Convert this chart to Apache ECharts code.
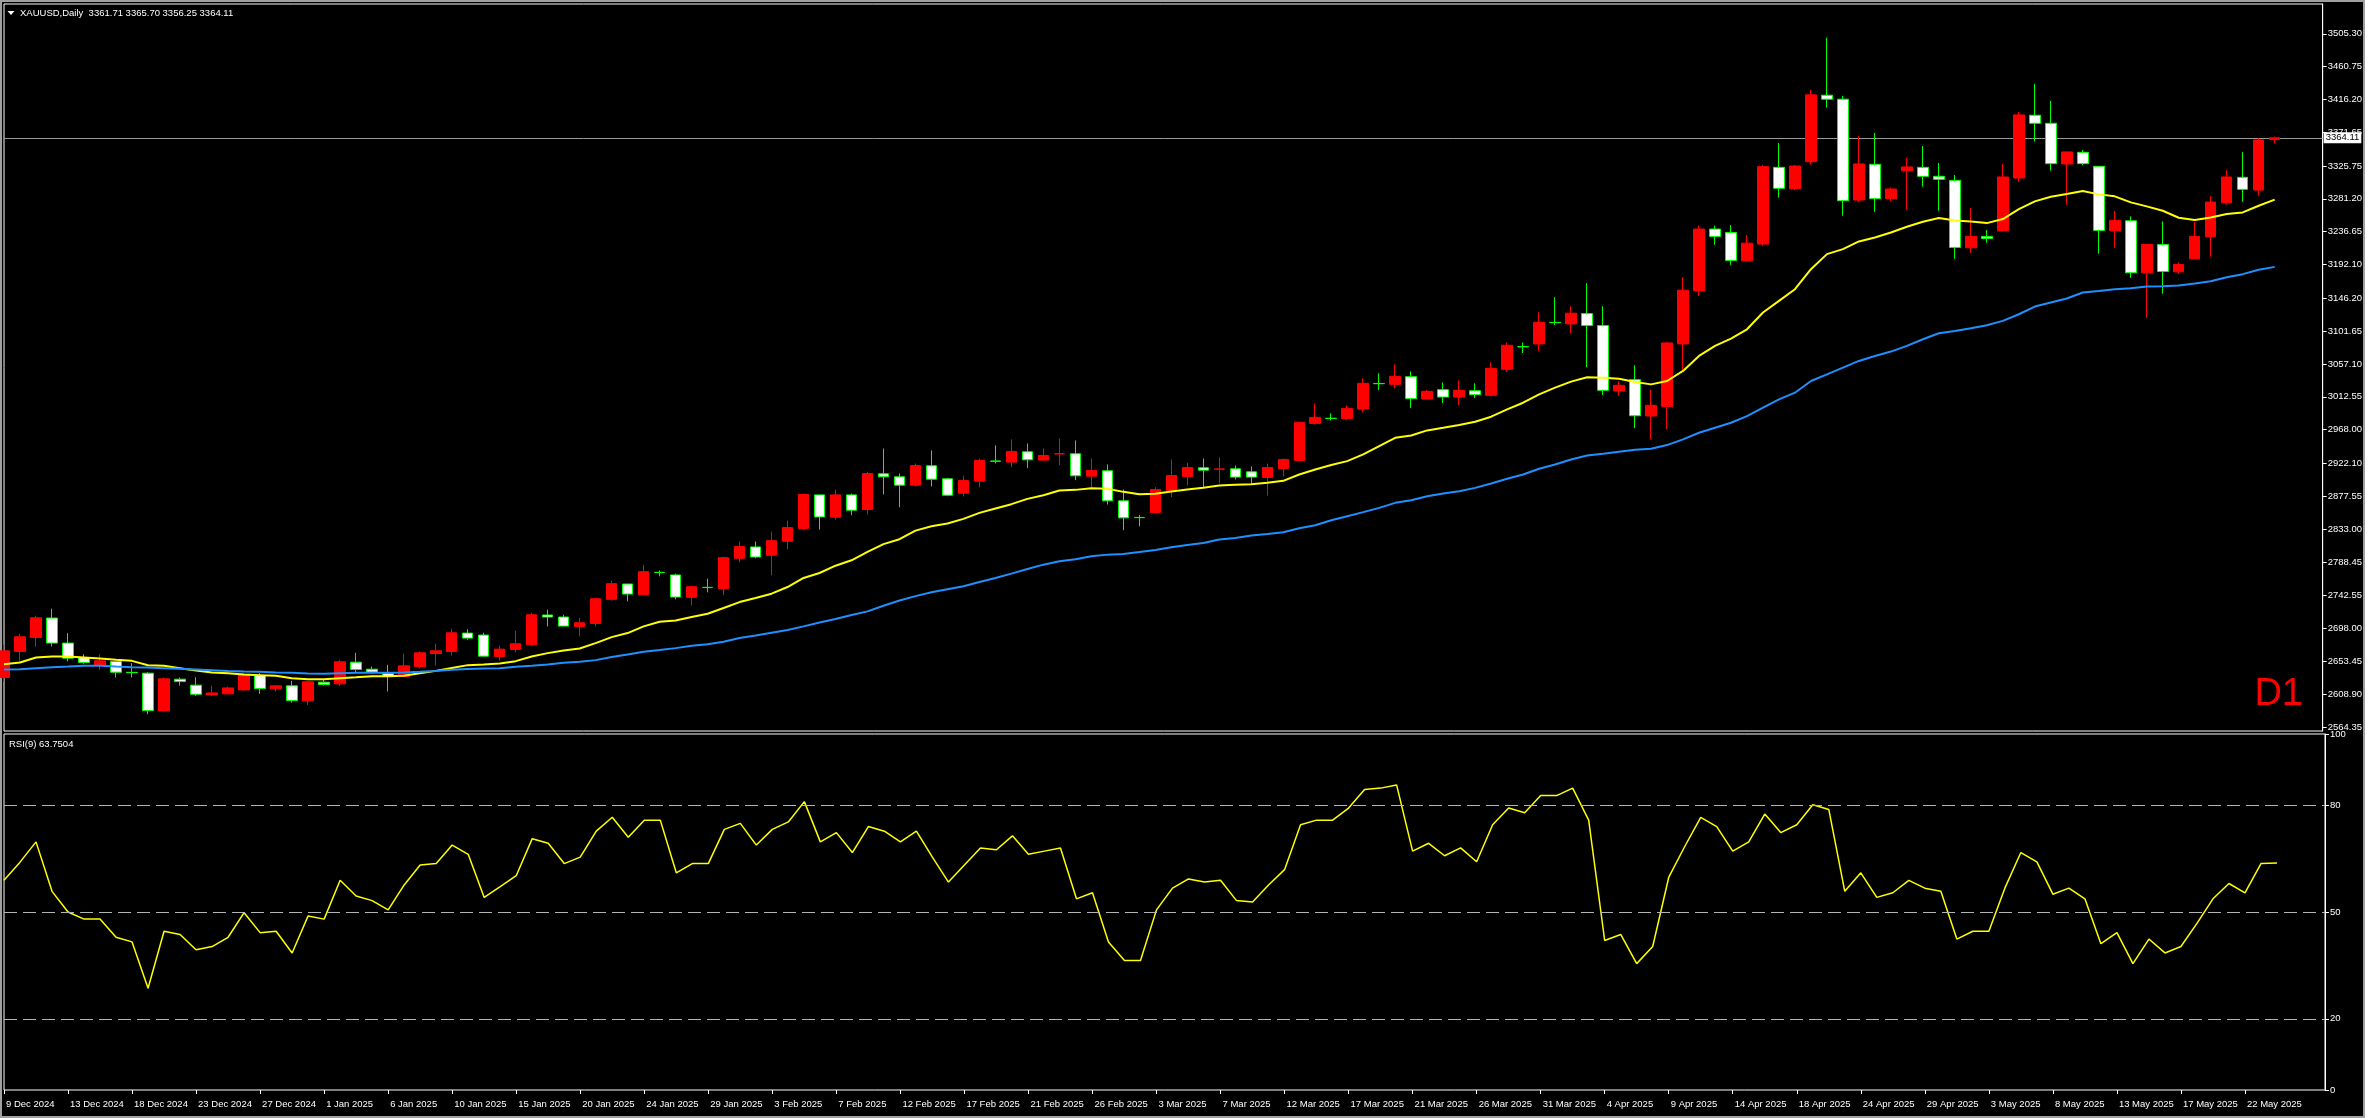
<!DOCTYPE html>
<html><head><meta charset="utf-8">
<script src="https://cdn.jsdelivr.net/npm/echarts@6/dist/echarts.min.js"></script>
<style>html,body{margin:0;padding:0;background:#000;overflow:hidden}#c{width:2365px;height:1118px;}</style>
</head><body><div id="c"></div>
<script>
const symbolName = 'XAUUSD,Daily';
const rsiName = 'RSI(9)';
const periodName = 'D1';
const dateLabels = ['9 Dec 2024','13 Dec 2024','18 Dec 2024','23 Dec 2024','27 Dec 2024','1 Jan 2025','6 Jan 2025','10 Jan 2025','15 Jan 2025','20 Jan 2025','24 Jan 2025','29 Jan 2025','3 Feb 2025','7 Feb 2025','12 Feb 2025','17 Feb 2025','21 Feb 2025','26 Feb 2025','3 Mar 2025','7 Mar 2025','12 Mar 2025','17 Mar 2025','21 Mar 2025','26 Mar 2025','31 Mar 2025','4 Apr 2025','9 Apr 2025','14 Apr 2025','18 Apr 2025','24 Apr 2025','29 Apr 2025','3 May 2025','8 May 2025','13 May 2025','17 May 2025','22 May 2025'];
const priceTicks = [3505.30,3460.75,3416.20,3371.65,3325.75,3281.20,3236.65,3192.10,3146.20,3101.65,3057.10,3012.55,2968.00,2922.10,2877.55,2833.00,2788.45,2742.55,2698.00,2653.45,2608.90,2564.35];
const rsiTicks = [0,20,50,80,100];
const rsiLevels = [20,50,80];
const opens = [2631.5,2666.8,2685.9,2712.2,2678.2,2658.7,2647.8,2653.2,2638.5,2637.4,2586.2,2629.2,2621.1,2607.9,2609.3,2614.7,2634.2,2616.1,2620.2,2599.8,2625.1,2622.9,2652.3,2642.8,2637.4,2632.8,2646.4,2664.1,2666.8,2691.8,2689.1,2660.1,2669.6,2675.9,2716.3,2713.6,2700.9,2704.9,2737.6,2758.4,2743.9,2774.3,2770.7,2740.3,2753.9,2752.1,2793.3,2808.7,2797.4,2816.4,2833.7,2879.4,2849.1,2879.4,2859.5,2908.0,2903.9,2892.6,2918.9,2901.2,2881.7,2898.0,2925.4,2923.9,2937.9,2926.6,2935.0,2935.2,2904.8,2912.1,2871.3,2848.8,2855.4,2885.3,2904.4,2916.2,2914.2,2914.8,2910.7,2903.0,2915.2,2926.1,2976.4,2983.4,2983.2,2995.9,3030.6,3029.4,3039.8,3009.5,3022.2,3012.2,3020.8,3014.5,3049.8,3080.7,3084.3,3113.5,3111.5,3125.5,3109.2,3020.4,3035.8,2986.4,2999.5,3084.3,3156.3,3240.2,3235.6,3197.1,3219.8,3324.0,3295.0,3331.7,3421.9,3416.5,3279.6,3328.1,3281.4,3319.5,3324.0,3311.8,3306.3,3214.8,3230.2,3237.9,3309.5,3394.7,3383.8,3328.6,3344.4,3325.4,3237.9,3251.5,3180.8,3219.3,3182.2,3199.8,3229.8,3276.0,3310.4,3293.2,3361.71];
const highs = [2675.9,2690.9,2715.3,2724.9,2691.8,2663.2,2663.2,2654.0,2651.0,2638.8,2631.5,2631.5,2631.9,2620.2,2619.3,2637.4,2637.4,2620.6,2627.0,2626.0,2628.3,2655.5,2665.0,2646.4,2648.7,2663.7,2666.8,2677.3,2697.7,2697.2,2692.3,2674.6,2695.0,2719.4,2723.5,2716.7,2712.2,2739.8,2762.9,2758.8,2784.7,2777.0,2772.5,2756.2,2765.7,2795.6,2816.0,2816.0,2829.6,2844.5,2881.2,2879.8,2886.7,2881.2,2910.7,2942.4,2908.4,2922.0,2939.7,2902.6,2905.7,2928.8,2946.5,2954.7,2949.2,2942.4,2956.0,2953.3,2928.8,2920.7,2886.7,2852.3,2889.9,2927.5,2923.0,2928.8,2930.2,2919.3,2918.0,2922.0,2928.8,2978.2,3003.6,2990.0,3000.9,3037.6,3044.4,3056.6,3047.1,3021.7,3032.1,3034.9,3030.8,3059.3,3086.1,3086.1,3127.3,3147.7,3135.5,3166.8,3135.5,3034.0,3055.3,3022.6,3086.9,3174.9,3244.7,3244.7,3245.6,3232.0,3327.2,3357.1,3327.2,3429.2,3499.9,3421.0,3366.6,3370.7,3296.4,3336.7,3353.0,3329.9,3313.6,3268.7,3238.8,3328.6,3399.3,3437.3,3414.2,3345.3,3347.6,3325.8,3264.6,3257.4,3219.7,3250.6,3194.9,3249.7,3285.0,3320.4,3344.9,3363.9,3365.70];
const lows = [2626.0,2653.2,2673.6,2673.6,2653.2,2650.1,2641.9,2631.5,2631.5,2581.6,2585.3,2620.6,2606.6,2606.6,2609.0,2613.4,2609.3,2612.5,2597.5,2594.3,2620.6,2620.2,2638.8,2637.4,2612.5,2632.4,2644.2,2647.8,2661.4,2682.7,2660.0,2654.2,2665.5,2674.6,2700.9,2700.8,2687.3,2700.9,2735.8,2734.9,2743.0,2768.8,2737.6,2729.4,2747.1,2743.0,2787.9,2793.3,2770.2,2805.6,2831.4,2832.3,2845.9,2851.8,2852.7,2879.9,2862.7,2890.8,2890.8,2877.6,2877.2,2889.9,2922.0,2917.1,2915.7,2925.2,2919.8,2899.4,2889.9,2866.3,2831.4,2836.8,2854.5,2876.3,2892.1,2889.9,2894.9,2900.3,2894.4,2878.5,2904.4,2925.7,2975.1,2980.5,2980.9,2991.4,3021.7,3024.0,2997.3,3009.1,3004.1,3001.3,3010.9,3013.1,3046.2,3072.0,3074.8,3110.1,3098.8,3053.0,3014.9,3013.6,2970.1,2955.1,2968.7,3047.6,3149.5,3218.9,3191.7,3195.8,3217.5,3282.8,3293.2,3327.6,3405.1,3258.3,3276.4,3263.7,3278.2,3266.0,3297.7,3265.1,3199.8,3208.0,3221.6,3236.5,3304.1,3358.9,3319.5,3273.3,3327.2,3206.6,3214.8,3174.0,3119.6,3152.3,3179.0,3199.8,3202.6,3273.3,3277.3,3285.5,3356.25];
const closes = [2667.7,2686.8,2712.6,2678.2,2657.8,2651.9,2654.1,2638.7,2638.0,2586.6,2629.7,2626.0,2608.8,2610.6,2617.4,2635.1,2616.5,2620.2,2600.2,2625.6,2622.0,2652.8,2642.4,2638.8,2632.8,2647.4,2665.0,2667.7,2692.2,2685.0,2660.5,2670.0,2677.3,2716.7,2713.6,2701.3,2705.8,2738.5,2758.9,2744.8,2775.2,2774.0,2740.7,2754.8,2753.6,2794.2,2809.2,2795.1,2817.3,2835.0,2879.9,2849.5,2879.4,2858.6,2908.4,2903.9,2892.6,2919.3,2900.7,2879.0,2898.9,2926.1,2925.0,2938.4,2927.0,2932.9,2935.3,2905.3,2912.5,2871.3,2848.2,2848.5,2886.7,2905.7,2916.6,2913.0,2914.6,2903.5,2903.5,2916.6,2927.5,2977.8,2984.6,2983.1,2996.8,3030.8,3030.3,3040.3,3010.0,3019.9,3012.2,3021.3,3015.4,3051.2,3082.5,3080.4,3113.7,3113.2,3126.0,3109.2,3021.3,3028.1,2986.8,3000.9,3085.6,3157.2,3240.2,3230.2,3197.6,3221.1,3324.9,3295.5,3325.8,3422.4,3416.5,3278.7,3328.6,3281.4,3294.6,3324.5,3311.8,3307.7,3215.3,3230.2,3227.5,3310.9,3395.2,3383.8,3329.0,3344.9,3329.0,3238.4,3252.0,3180.8,3219.3,3182.6,3192.1,3230.2,3276.9,3310.9,3294.1,3361.2,3364.11];
const maFast = [2649.6,2651.9,2658.7,2660.0,2660.0,2658.7,2657.3,2655.5,2654.1,2648.2,2647.4,2644.2,2641.0,2638.3,2637.4,2635.6,2634.7,2633.8,2630.6,2629.2,2629.2,2630.6,2631.9,2633.3,2633.3,2633.8,2637.4,2640.5,2644.5,2648.3,2649.2,2650.6,2653.7,2660.1,2664.6,2668.2,2670.9,2678.2,2686.3,2691.8,2700.9,2707.2,2709.0,2713.6,2718.1,2725.8,2733.9,2739.4,2745.3,2754.3,2766.6,2773.4,2783.3,2790.6,2801.9,2812.6,2819.2,2830.9,2836.8,2840.5,2846.8,2855.0,2860.9,2866.8,2874.0,2879.0,2885.3,2886.2,2888.5,2887.6,2883.5,2880.4,2880.8,2884.0,2886.7,2889.0,2892.1,2893.0,2893.9,2895.8,2898.5,2907.1,2913.9,2920.0,2925.2,2934.3,2945.6,2956.9,2960.1,2966.9,2970.5,2974.2,2978.7,2985.5,2995.4,3004.5,3015.8,3024.9,3033.1,3039.0,3038.5,3037.1,3032.6,3029.4,3034.0,3047.6,3068.0,3081.6,3091.5,3104.2,3126.9,3142.7,3158.6,3185.8,3206.2,3213.0,3223.4,3228.8,3235.6,3243.3,3250.1,3255.1,3251.9,3250.6,3248.3,3253.8,3267.4,3277.8,3284.1,3287.8,3291.8,3287.3,3284.6,3276.4,3271.0,3265.1,3255.6,3252.4,3256.0,3260.6,3262.8,3271.9,3280.1];
const maSlow = [2642.4,2642.8,2644.2,2645.5,2646.4,2647.4,2647.4,2646.4,2645.5,2645.1,2644.2,2643.3,2642.4,2641.5,2640.5,2639.6,2639.2,2638.3,2637.8,2636.9,2636.5,2637.4,2637.8,2637.8,2637.8,2638.3,2639.2,2640.5,2641.9,2642.9,2643.8,2644.2,2646.0,2647.4,2649.2,2651.5,2652.8,2655.1,2659.2,2662.8,2666.4,2668.7,2671.4,2674.6,2676.8,2680.0,2685.0,2688.6,2692.3,2695.9,2700.9,2706.3,2710.8,2716.3,2721.3,2729.0,2736.0,2742.0,2747.1,2751.2,2755.3,2761.2,2766.6,2772.5,2778.8,2784.7,2789.3,2792.0,2796.1,2798.3,2799.2,2801.9,2804.7,2808.3,2811.5,2814.2,2818.7,2821.0,2824.2,2826.4,2828.7,2834.1,2838.2,2845.0,2850.5,2856.0,2861.8,2868.6,2872.2,2877.6,2881.3,2884.4,2888.9,2894.8,2901.2,2907.1,2914.8,2920.7,2927.5,2932.9,2935.2,2937.9,2940.6,2942.0,2947.0,2954.7,2963.7,2970.5,2977.3,2986.4,2997.7,3009.0,3018.1,3034.0,3043.0,3052.1,3061.2,3068.0,3073.9,3081.6,3090.6,3098.8,3101.9,3105.6,3109.7,3115.6,3124.6,3135.0,3140.5,3145.9,3154.1,3156.3,3158.6,3159.9,3162.2,3162.7,3163.6,3166.3,3169.5,3174.9,3179.0,3184.9,3188.9];
const rsi9 = [58.9,64.0,69.7,55.8,50.0,48.0,48.0,42.9,41.6,28.6,44.6,43.7,39.4,40.3,42.9,49.8,44.2,44.6,38.5,48.9,48.0,58.9,54.5,53.2,50.6,57.6,63.2,63.6,68.8,66.2,54.1,57.1,60.2,70.6,69.3,63.6,65.4,72.7,76.6,71.0,75.8,75.8,61.0,63.6,63.6,73.2,74.9,68.8,73.2,75.3,81.0,69.7,72.3,66.7,74.0,72.7,69.7,72.7,65.4,58.4,63.2,68.0,67.5,71.4,66.2,67.1,68.0,53.7,55.4,41.6,36.4,36.4,50.6,56.7,59.3,58.4,58.9,53.2,52.8,57.6,61.9,74.5,75.8,75.8,79.2,84.4,84.8,85.7,67.1,69.3,65.8,68.0,64.1,74.5,79.2,77.9,82.7,82.7,84.8,75.8,42.0,43.7,35.5,40.3,59.7,68.4,76.6,74.0,67.1,69.7,77.5,72.3,74.5,80.1,78.8,55.8,61.0,54.1,55.4,58.9,56.7,55.8,42.4,44.6,44.6,56.7,66.7,64.1,55.0,56.7,53.7,41.1,44.2,35.5,42.4,38.5,40.3,46.8,53.7,58.0,55.4,63.6,63.7504];

const n = opens.length;
const slots = n + 3;               // MT4 chart shift: empty space right of the last bar
const cats = Array.from({length: slots}, (_, i) => 'b' + i);
const candle = opens.map((o, i) => [o, closes[i], lows[i], highs[i]]);
const lastClose = closes[n - 1];
const FONT = 'Liberation Sans';
const isDateTick = (i) => i % 4 === 0 && (i / 4) < dateLabels.length;

const chart = echarts.init(document.getElementById('c'), null, {renderer: 'canvas'});
const headerText = symbolName + '  ' + [opens[n-1], highs[n-1], lows[n-1], closes[n-1]].map(v => v.toFixed(2)).join(' ');

chart.setOption({
  backgroundColor: '#000',
  animation: false,
  textStyle: {fontFamily: FONT},
  grid: [
    {left: 4, top: 4, width: 2321, height: 727, show: true, borderColor: '#ffffff', borderWidth: 1, backgroundColor: 'transparent'},
    {left: 4, top: 734, width: 2321, height: 356, show: true, borderColor: '#ffffff', borderWidth: 1, backgroundColor: 'transparent'}
  ],
  xAxis: [
    {gridIndex: 0, type: 'category', data: cats, boundaryGap: false, show: false},
    {gridIndex: 1, type: 'category', data: cats, boundaryGap: false,
     axisLine: {show: false},
     axisTick: {show: true, length: 4, interval: (i) => isDateTick(i), lineStyle: {color: '#ffffff'}},
     axisLabel: {interval: (i) => isDateTick(i), formatter: (v) => { const i = +v.slice(1); return isDateTick(i) ? dateLabels[i / 4] : ''; },
                 color: '#ffffff', fontSize: 9.5, fontFamily: FONT, align: 'left', margin: 9, padding: [0, 0, 0, 2]},
     splitLine: {show: false}}
  ],
  yAxis: [
    {gridIndex: 0, type: 'value', position: 'right', min: 2558.9, max: 3545.7, scale: true,
     splitLine: {show: false},
     axisLine: {show: true, lineStyle: {color: '#ffffff'}},
     axisTick: {show: true, length: 4, customValues: priceTicks, lineStyle: {color: '#ffffff'}},
     axisLabel: {customValues: priceTicks, formatter: (v) => v.toFixed(2), color: '#ffffff', fontSize: 9.5, fontFamily: FONT, margin: 5}},
    {gridIndex: 1, type: 'value', position: 'right', min: 0, max: 100,
     splitLine: {show: false},
     axisLine: {show: true, lineStyle: {color: '#ffffff'}},
     axisTick: {show: true, length: 4, customValues: rsiTicks, lineStyle: {color: '#ffffff'}},
     axisLabel: {customValues: rsiTicks, formatter: (v) => String(v), color: '#ffffff', fontSize: 9.5, fontFamily: FONT, margin: 5}}
  ],
  series: [
    {type: 'candlestick', xAxisIndex: 0, yAxisIndex: 0, data: candle, barWidth: 11, clip: true, z: 2,
     itemStyle: {color: '#ff0000', color0: '#ffffff', borderColor: '#ff0000', borderColor0: '#00ff00', borderWidth: 1},
     markLine: {silent: true, symbol: ['none', 'none'], animation: false, z: 1,
       lineStyle: {color: '#9a9a9a', width: 1, type: 'solid'},
       label: {show: true, position: 'end', formatter: lastClose.toFixed(2), color: '#000000', backgroundColor: '#ffffff',
               fontSize: 9.5, fontFamily: FONT, padding: [1, 2, 0, 2], distance: 1},
       data: [{yAxis: lastClose}]}},
    {type: 'line', xAxisIndex: 0, yAxisIndex: 0, data: maFast, showSymbol: false, z: 4,
     lineStyle: {color: '#ffff00', width: 2}, itemStyle: {color: '#ffff00'}},
    {type: 'line', xAxisIndex: 0, yAxisIndex: 0, data: maSlow, showSymbol: false, z: 4,
     lineStyle: {color: '#1e90ff', width: 2}, itemStyle: {color: '#1e90ff'}},
    {type: 'line', xAxisIndex: 1, yAxisIndex: 1, data: rsi9, showSymbol: false, z: 4,
     lineStyle: {color: '#ffff00', width: 1.5}, itemStyle: {color: '#ffff00'},
     markLine: {silent: true, symbol: ['none', 'none'], animation: false, label: {show: false},
       lineStyle: {color: '#b4b4b4', width: 1, type: [13, 6]},
       data: rsiLevels.map(v => ({yAxis: v}))}}
  ],
  graphic: [
    {type: 'rect', shape: {x: 1, y: 1, width: 2363, height: 1116}, style: {fill: 'none', stroke: '#a0a0a0', lineWidth: 2}, silent: true},
    {type: 'polygon', shape: {points: [[7.5, 11], [14.5, 11], [11, 15]]}, style: {fill: '#ffffff'}},
    {type: 'text', left: 20, top: 8, style: {text: headerText, fill: '#ffffff', font: '9.5px "Liberation Sans"'}},
    {type: 'text', left: 9, top: 739, style: {text: rsiName + ' ' + rsi9[n - 1].toFixed(4), fill: '#ffffff', font: '9.5px "Liberation Sans"'}},
    {type: 'text', right: 62, top: 676, style: {text: periodName, fill: '#ff0000', font: '38px "Liberation Sans"'}}
  ]
});
</script>
</body></html>
